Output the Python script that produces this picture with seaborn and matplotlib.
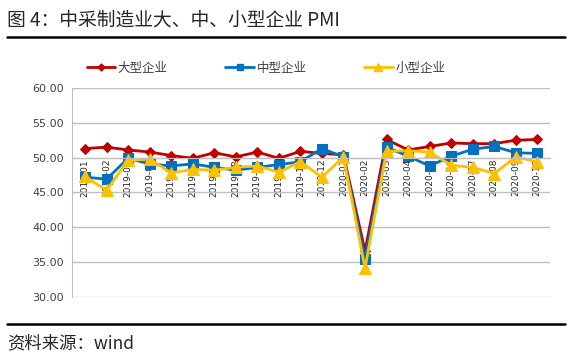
import matplotlib
matplotlib.use('Agg')
import matplotlib.pyplot as plt
from matplotlib.lines import Line2D
import seaborn as sns
import pandas as pd
import numpy as np

months = ['2019-01', '2019-02', '2019-03', '2019-04', '2019-05', '2019-06',
          '2019-07', '2019-08', '2019-09', '2019-10', '2019-11', '2019-12',
          '2020-01', '2020-02', '2020-03', '2020-04', '2020-05', '2020-06',
          '2020-07', '2020-08', '2020-09', '2020-10']
large = [51.3, 51.5, 51.1, 50.8, 50.3, 49.9, 50.7, 50.1, 50.8, 49.9, 50.9, 50.6,
         50.4, 36.6, 52.6, 51.1, 51.6, 52.1, 52.0, 52.0, 52.5, 52.6]
medium = [47.2, 46.9, 49.9, 49.1, 48.8, 49.1, 48.6, 48.2, 48.6, 49.0, 49.4, 51.3,
          50.1, 35.5, 51.5, 50.2, 48.8, 50.2, 51.2, 51.6, 50.7, 50.6]
small = [47.3, 45.3, 49.6, 49.8, 47.8, 48.3, 48.2, 48.6, 48.8, 47.9, 49.4, 47.2,
         50.1, 34.1, 50.9, 51.0, 50.8, 48.9, 48.6, 47.7, 50.1, 49.4]
series_names = ['大型企业', '中型企业', '小型企业']
y_ticks = [30, 35, 40, 45, 50, 55, 60]

sns.set_style('white')
plt.rcParams['font.family'] = ['Noto Sans CJK SC', 'DejaVu Sans']

df = pd.DataFrame({'idx': range(len(months)), '大型企业': large, '中型企业': medium, '小型企业': small})
long = df.melt(id_vars='idx', var_name='series', value_name='value')

fig = plt.figure(figsize=(5.72, 3.59), dpi=100)
ax = fig.add_axes([0.126, 0.173, 0.836, 0.582])

palette = {'大型企业': '#C00000', '中型企业': '#0070C0', '小型企业': '#FFC000'}
markers = {'大型企业': 'D', '中型企业': 's', '小型企业': '^'}
sizes = {'大型企业': 5.5, '中型企业': 7, '小型企业': 8}
for name in series_names:
    sub = long[long['series'] == name]
    sns.lineplot(data=sub, x='idx', y='value', ax=ax, color=palette[name],
                 marker=markers[name], markersize=sizes[name], linewidth=2,
                 markeredgecolor=palette[name], legend=False)

# axis crosses at 50 (set before styling ticks, since it resets them)
for s in ['top', 'right']:
    ax.spines[s].set_visible(False)
ax.spines['bottom'].set_position(('data', 50))
ax.spines['bottom'].set_color('#BFBFBF')
ax.spines['left'].set_color('#BFBFBF')

ax.set_ylim(30, 60)
ax.set_xlim(-0.6, len(months) - 0.4)
ax.set_yticks(y_ticks)
ax.set_yticklabels([f'{v:.2f}' for v in y_ticks])
ax.set_xticks(range(len(months)))
ax.set_xticklabels(months)
ax.set_xticks(np.arange(-0.5, len(months), 1), minor=True)
ax.tick_params(axis='x', which='major', length=0, pad=1, labelrotation=90, labelsize=6.5)
ax.tick_params(axis='x', which='minor', direction='in', length=3, color='#BFBFBF')
ax.tick_params(axis='y', length=0, pad=6, labelsize=8, labelcolor='#404040')
for lab in ax.get_yticklabels() + ax.get_xticklabels():
    lab.set_family(['DejaVu Sans'])
ax.grid(axis='y', color='#BFBFBF', linewidth=1)
ax.set_axisbelow(True)
ax.set_xlabel('')
ax.set_ylabel('')

handles = [Line2D([], [], color=palette[n], marker=markers[n], markersize=sizes[n] - 2,
                  linewidth=2) for n in series_names]
leg = fig.legend(handles, series_names, loc='center', bbox_to_anchor=(0.465, 0.81), ncol=3,
                 frameon=False, fontsize=9, columnspacing=4.6, handlelength=2.3,
                 handletextpad=0.2)
for t in leg.get_texts():
    t.set_color('#404040')

fig.text(0.012, 0.945, '图 4：中采制造业大、中、小型企业 PMI', fontsize=13.5,
         ha='left', va='center')
fig.add_artist(Line2D([0.012, 0.988], [0.897, 0.897], color='black', linewidth=1.8))
fig.add_artist(Line2D([0.012, 0.988], [0.097, 0.097], color='black', linewidth=1.8))
fig.text(0.012, 0.045, '资料来源：wind', fontsize=12.5, ha='left', va='center')

fig.savefig('out.png', dpi=100)
